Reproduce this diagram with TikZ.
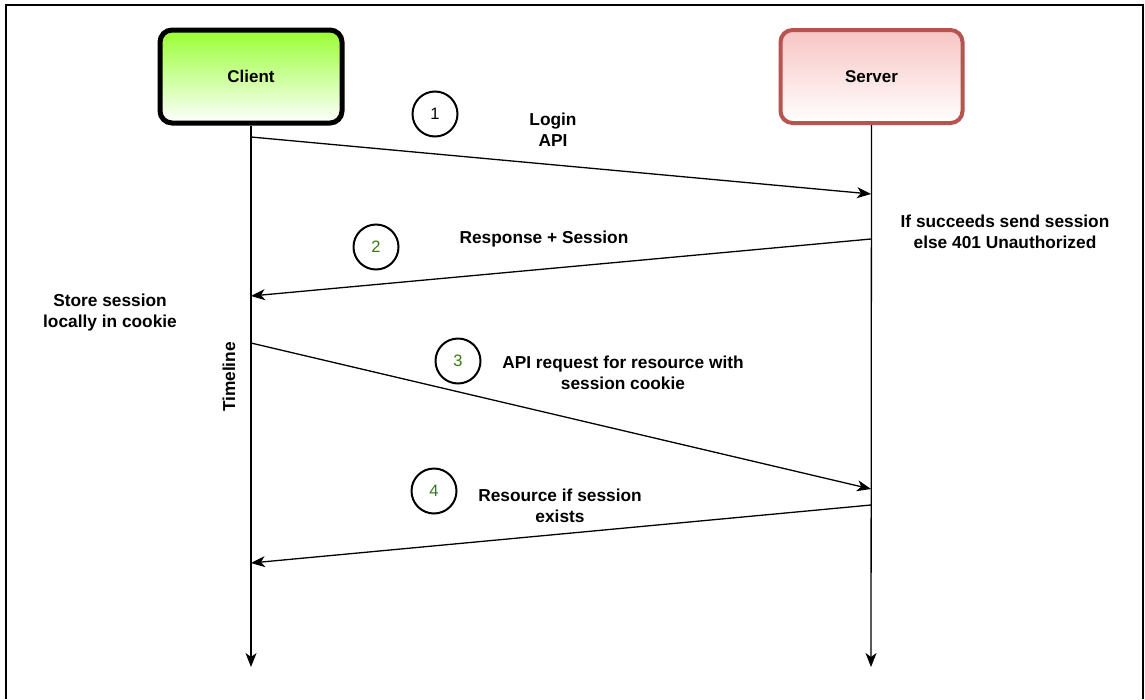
\documentclass[tikz,border=0pt]{standalone}
\usepackage{fontspec}
\setmainfont{Liberation Sans}
\usetikzlibrary{arrows.meta}
\definecolor{clientgreen}{HTML}{99FF33}
\definecolor{serverred}{HTML}{B85450}
\definecolor{serverfill}{HTML}{F6C5C3}
\definecolor{numgreen}{HTML}{3A7A10}
\tikzset{
  actor/.style={rounded corners=12pt, minimum width=182pt, minimum height=93pt,
    font=\fontsize{17}{20}\selectfont\bfseries, inner sep=0pt},
  msg/.style={line width=1.3pt, -{Stealth[length=14pt,width=11pt,inset=4pt]}},
  life/.style={line width=1.3pt, -{Stealth[length=14pt,width=11pt,inset=4pt]}},
  stepnum/.style={circle, draw, line width=2pt, minimum size=45pt, inner sep=0pt,
    font=\fontsize{16.5}{18}\selectfont},
  lbl/.style={font=\fontsize{17.3}{21}\selectfont\bfseries, align=center, inner sep=0pt}
}
\begin{document}
\begin{tikzpicture}[x=1pt,y=-1pt]
\useasboundingbox (0,0) rectangle (1145,699);
\fill[white] (0,0) rectangle (1145,699);
\draw[line width=2.2pt] (6,699) -- (6,5) -- (1143,5) -- (1143,699);

\node[actor, draw=black, line width=5pt, top color=clientgreen, bottom color=white] (client) at (251,76.5) {Client};
\node[actor, draw=serverred, line width=4pt, top color=serverfill, bottom color=white] (server) at (871.5,76.5) {Server};

\coordinate (cend) at (251,667);
\coordinate (send) at (871,667);
\draw[life] (client.south) -- (cend);
\draw[life] (server.south) -- (send);

\coordinate (c1) at (251,137);
\coordinate (s1) at (871,194);
\coordinate (s2) at (871,239);
\coordinate (c2) at (251,296);
\coordinate (c3) at (251,343);
\coordinate (s3) at (871,489);
\coordinate (s4) at (871,505);
\coordinate (c4) at (251,563);

\draw[msg] (c1) -- (s1);
\draw[msg] (s2) -- (c2);
\draw[msg] (c3) -- (s3);
\draw[msg] (s4) -- (c4);

\node[stepnum] (n1) at (435,114) {1};
\node[stepnum, text=numgreen] (n2) at (376,247) {2};
\node[stepnum, text=numgreen] (n3) at (458,361) {3};
\node[stepnum, text=numgreen] (n4) at (434,491) {4};

\node[lbl] (l1) at (553,130) {Login\\API};
\node[lbl] (l2) at (544,239) {Response + Session};
\node[lbl] (l3) at (623,373) {API request for resource with\\session cookie};
\node[lbl] (l4) at (560,506) {Resource if session\\exists};
\node[lbl] (ls) at (1005,232) {If succeeds send session\\else 401 Unauthorized};
\node[lbl] (lc) at (110,313) {Store session\\locally in cookie};
\node[lbl, rotate=90] (lt) at (229,377) {Timeline};
\end{tikzpicture}
\end{document}
